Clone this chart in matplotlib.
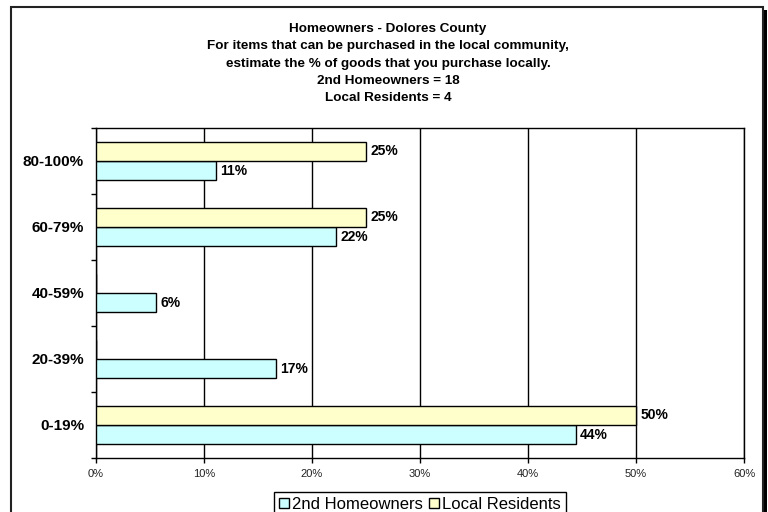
import numpy as np
import matplotlib
matplotlib.use("Agg")
import matplotlib.pyplot as plt
from matplotlib.patches import Rectangle

plt.rcParams['font.family'] = ['Liberation Sans', 'DejaVu Sans']

# data (fractions of respondents)
categories = ["0-19%", "20-39%", "40-59%", "60-79%", "80-100%"]
second_home = [8/18, 3/18, 1/18, 4/18, 2/18]
local_res = [2/4, 0, 0, 1/4, 1/4]
series_names = ["2nd Homeowners", "Local Residents"]
title_lines = ["Homeowners - Dolores County",
               "For items that can be purchased in the local community,",
               "estimate the % of goods that you purchase locally.",
               "2nd Homeowners = 18",
               "Local Residents = 4"]
xticks = [0, 0.1, 0.2, 0.3, 0.4, 0.5, 0.6]

W, H = 768, 512
fig = plt.figure(figsize=(7.68, 5.12), dpi=100)
fig.patch.set_facecolor("white")

# outer frame with shadow on the right
fig.patches.append(Rectangle((763/W, -0.1), 4/W, 1 - 10/H + 0.1, transform=fig.transFigure,
                             facecolor="black", edgecolor="none", zorder=0))
fig.patches.append(Rectangle((11/W, -0.1), 752/W, 1 - 7/H + 0.1, transform=fig.transFigure,
                             facecolor="white", edgecolor="#222222", linewidth=1.5, zorder=1))

ax = fig.add_axes([96/W, 1 - 458/H, 648/W, 330/H])
ax.set_zorder(2)

y = np.arange(len(categories))
h = 0.288
b1 = ax.barh(y - h/2, second_home, height=h, color="#CCFFFF", edgecolor="black",
             linewidth=1, label=series_names[0], zorder=3)
b2 = ax.barh(y + h/2, local_res, height=h, color="#FFFFCC", edgecolor="black",
             linewidth=1, label=series_names[1], zorder=3)

def lab(vals):
    return ["%d%%" % round(v*100) if v > 0 else "" for v in vals]

ax.bar_label(b1, labels=lab(second_home), padding=3, fontsize=10, fontweight="bold")
ax.bar_label(b2, labels=lab(local_res), padding=3, fontsize=10, fontweight="bold")

ax.set_xlim(0, 0.6)
ax.set_ylim(-0.5, 4.5)
ax.set_xticks(xticks)
ax.set_xticklabels(["%d%%" % round(v*100) for v in xticks], fontsize=8, color="#222222")
ax.tick_params(axis="x", length=3.6, width=1, pad=4)
ax.set_yticks(y)
ax.set_yticklabels(categories, fontsize=11, fontweight="bold")
ax.set_yticks(np.arange(-0.5, 5, 1), minor=True)
ax.tick_params(axis="y", which="major", length=0, pad=8.6)
ax.tick_params(axis="y", which="minor", length=3.6, width=1)
ax.grid(axis="x", color="black", linewidth=1, zorder=1)
ax.set_axisbelow(True)
for s in ax.spines.values():
    s.set_color("black")
    s.set_linewidth(1)

# title lines
ty = [29, 46, 63.5, 81, 98]
for t, yy in zip(title_lines, ty):
    fig.text(388/W, 1 - yy/H, t, ha="center", va="center", fontsize=9.7,
             fontweight="bold", zorder=5)

leg = fig.legend(handles=[b1, b2], loc="upper center", bbox_to_anchor=(420/W, 1 - 492/H),
                 ncol=2, fontsize=12, frameon=True, fancybox=False, shadow=False,
                 handlelength=0.6, handleheight=0.6, handletextpad=0.2,
                 columnspacing=0.35, borderpad=0.3, borderaxespad=0)
leg.get_frame().set_edgecolor("black")
leg.get_frame().set_linewidth(1)
leg.get_frame().set_alpha(1)
leg.set_zorder(5)

plt.savefig("out.png", dpi=100)
